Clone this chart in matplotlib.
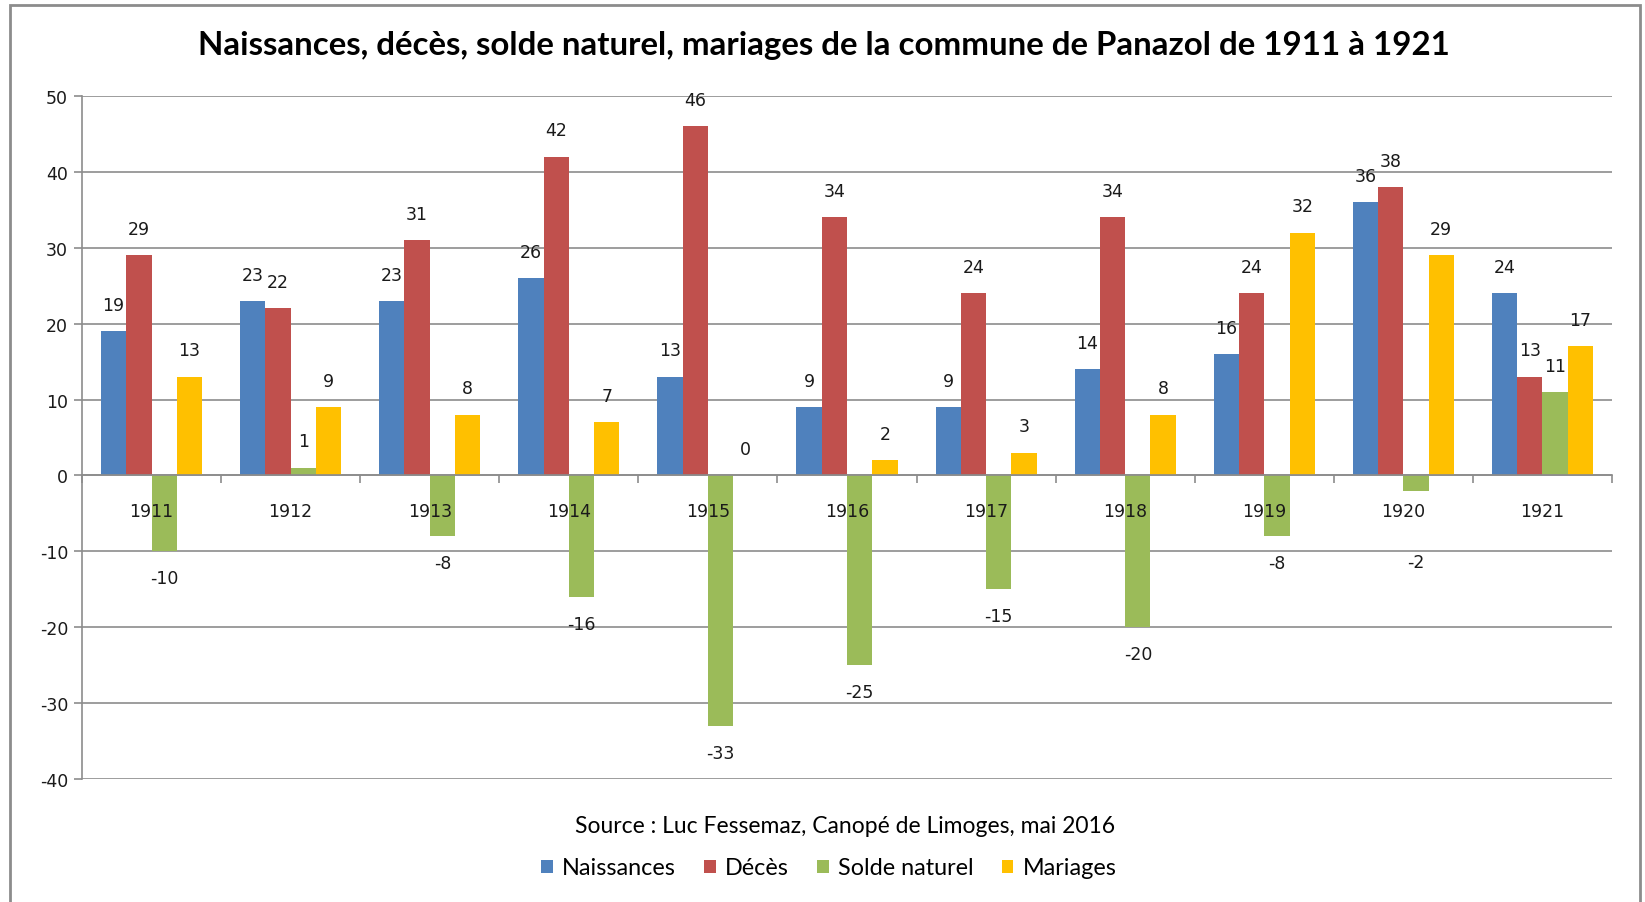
import matplotlib
matplotlib.use('Agg')
import matplotlib.pyplot as plt
from matplotlib.patches import Patch, Rectangle
import numpy as np

# Data
years = ['1911', '1912', '1913', '1914', '1915', '1916', '1917', '1918', '1919', '1920', '1921']
naissances = [19, 23, 23, 26, 13, 9, 9, 14, 16, 36, 24]
deces = [29, 22, 31, 42, 46, 34, 24, 34, 24, 38, 13]
solde = [-10, 1, -8, -16, -33, -25, -15, -20, -8, -2, 11]
mariages = [13, 9, 8, 7, 0, 2, 3, 8, 32, 29, 17]

series_names = ['Naissances', 'Décès', 'Solde naturel', 'Mariages']
colors = ['#4F81BD', '#C0504D', '#9BBB59', '#FFC000']

title = 'Naissances, décès, solde naturel, mariages de la commune de Panazol de 1911 à 1921'
source = 'Source : Luc Fessemaz, Canopé de Limoges, mai 2016'

plt.rcParams['axes.unicode_minus'] = False

grey = '#8c8c8c'
num_font = 'DejaVu Sans'
txt_font = 'Lato'
cat_offset = -25.5  # points below the zero line for the year labels

fig = plt.figure(figsize=(16.45, 9.03), dpi=100)
ax = fig.add_axes([82 / 1645, 1 - 780 / 903, (1612 - 82) / 1645, (780 - 97) / 903])

x = np.arange(len(years))
ax.set_xlim(-0.5, len(years) - 0.5)
ax.set_ylim(-40, 50)

width = 1 / 5.5
all_series = [naissances, deces, solde, mariages]
pt_per_px = 72 / fig.dpi

for k, (vals, col) in enumerate(zip(all_series, colors)):
    pos = x + (k - 1.5) * width
    ax.bar(pos, vals, width=width, color=col, zorder=2)
    for xi, v in zip(pos, vals):
        if v >= 0:
            off = 19
        else:
            off = -19.5
            # short negative bars: drop the label below the year label
            bar_pt = (ax.transData.transform((0, v))[1] - ax.transData.transform((0, 0))[1]) * pt_per_px
            if bar_pt + off > cat_offset - 37:
                off = cat_offset - 37 - bar_pt
        ax.annotate(str(v), (xi, v), xytext=(0, off), textcoords='offset points',
                    ha='center', va='center', fontsize=12.5, family=num_font,
                    color='#1a1a1a', zorder=5)

# category labels sit next to the zero line, drawn over the bars
for xi, yr in zip(x, years):
    ax.annotate(yr, (xi, 0), xytext=(0, cat_offset), textcoords='offset points',
                ha='center', va='center', fontsize=12.5, family=num_font,
                color='#1a1a1a', zorder=6)

ax.set_yticks(range(-40, 51, 10))
ax.yaxis.grid(True, color=grey, linewidth=1.2, zorder=0)
ax.set_axisbelow(True)

# category axis crosses at zero
for s in ['top', 'right']:
    ax.spines[s].set_visible(False)
ax.spines['bottom'].set_position(('data', 0))
ax.spines['bottom'].set_color(grey)
ax.spines['bottom'].set_linewidth(1.2)
ax.spines['bottom'].set_zorder(3)
ax.spines['left'].set_color(grey)
ax.spines['left'].set_linewidth(1.2)

ax.set_xticks(np.arange(-0.5, len(years)))
ax.set_xticklabels([])
ax.tick_params(axis='x', length=6, color=grey, width=1.2, direction='out')
ax.tick_params(axis='y', length=6, color=grey, width=1.2, labelsize=12.5, pad=4)
for lab in ax.get_yticklabels():
    lab.set_family(num_font)
    lab.set_color('#1a1a1a')

fig.text(824 / 1645, 1 - 46 / 903, title, ha='center', va='center', fontsize=23.8,
         fontweight='bold', family=txt_font)
fig.text(845 / 1645, 1 - 827 / 903, source, ha='center', va='center', fontsize=16.5,
         family=txt_font)

handles = [Patch(facecolor=c, edgecolor='none') for c in colors]
fig.legend(handles, series_names, loc='center', bbox_to_anchor=(829 / 1645, 1 - 869 / 903),
           ncol=4, frameon=False, prop={'family': txt_font, 'size': 16.8},
           handlelength=0.5, handleheight=0.5, handletextpad=0.4, columnspacing=1.2)

fig.patches.append(Rectangle((10 / 1645, -0.02), (1640 - 10) / 1645, 1.02 - 6 / 903,
                             transform=fig.transFigure, fill=False, edgecolor=grey,
                             linewidth=2, zorder=0))

fig.savefig('out.png', dpi=100)
